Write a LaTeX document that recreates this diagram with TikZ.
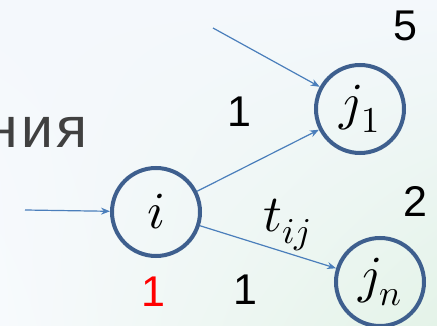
\documentclass[tikz,border=0pt]{standalone}
\usepackage{fontspec}
\setmainfont{Liberation Sans}
\newfontfamily\wordfont[LetterSpace=6]{Liberation Sans}
\usepackage{unicode-math}
\usetikzlibrary{arrows.meta,shadings}
\definecolor{ring}{HTML}{3E5F8E}
\definecolor{arrowblue}{HTML}{4A7EBB}
\definecolor{ink}{HTML}{404040}
\definecolor{bgA}{HTML}{F4F8FC}
\definecolor{bgB}{HTML}{E4F3E8}
\tikzset{
  vertex/.style={circle, draw=ring, line width=4pt, minimum size=88pt, inner sep=0pt, font=\fontsize{52}{52}\selectfont},
  link/.style={draw=arrowblue, line width=1.2pt, -{Stealth[length=9pt,width=7pt]}},
  num/.style={font=\fontsize{43}{43}\selectfont, inner sep=0pt}
}
\begin{document}
\begin{tikzpicture}[x=1pt,y=-1pt]
\useasboundingbox (0,0) rectangle (437,326);
\shade[upper left=bgA, upper right=bgA, lower left=bgA!70!white, lower right=bgB] (0,0) rectangle (437,326);
\begin{scope}
\clip (0,0) rectangle (437,326);
\node[anchor=base west, inner sep=0pt, text=ink, font=\wordfont\fontsize{57}{57}\selectfont] (word) at (-14,148) {ния};
\end{scope}
\node[vertex] (i) at (156,212) {$i$};
\node[vertex] (j1) at (360,109) {$j_1$};
\node[vertex] (jn) at (380,282) {$j_n$};
\coordinate (srci) at (25,210);
\coordinate (srcj) at (213,28);
\draw[link] (srci) -- (i);
\draw[link] (srcj) -- (j1);
\draw[link] (i) -- (j1);
\draw[link] (i) -- (jn);
\node[num] (n5) at (405,26) {5};
\node[num] (n1a) at (239,112) {1};
\node[num] (n2) at (415,201) {2};
\node[num, text=red] (n1r) at (153,292) {1};
\node[num] (n1b) at (245,290) {1};
\node[inner sep=0pt, font=\fontsize{52}{52}\selectfont] (t) at (287,225) {$t_{ij}$};
\end{tikzpicture}
\end{document}
